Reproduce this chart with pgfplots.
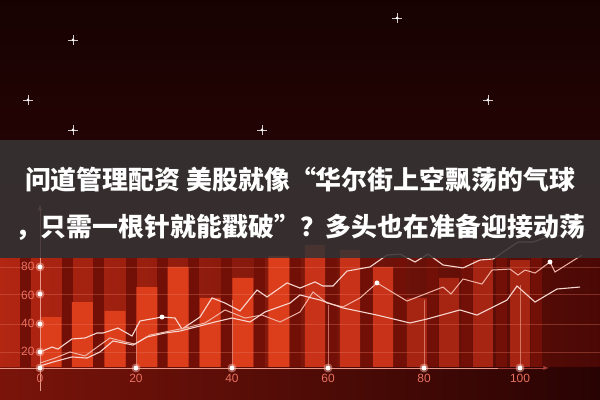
\documentclass[border=0pt]{standalone}
\usepackage{fontspec}
\setmainfont{Liberation Sans}
\newfontfamily\cjk{Noto Sans CJK SC}
\usepackage{pgfplots}
\pgfplotsset{compat=1.18}

\definecolor{topdark}{HTML}{170202}
\definecolor{topmid}{HTML}{2E0505}
\definecolor{areaL}{HTML}{B22612}
\definecolor{areaR}{HTML}{4A0805}
\definecolor{gapc}{HTML}{721008}
\definecolor{barA}{HTML}{DC3E1C}
\definecolor{barB}{HTML}{C83218}
\definecolor{barC}{HTML}{A62412}
\definecolor{lowL}{HTML}{7A140A}
\definecolor{lowR}{HTML}{280303}
\definecolor{axc}{HTML}{E89888}
\definecolor{tickc}{HTML}{E8705E}
\definecolor{bandc}{HTML}{383434}
\definecolor{lineA}{HTML}{F6D6CE}
\definecolor{lineB}{HTML}{F0B4A6}
\definecolor{halo}{HTML}{FFB4A4}

\begin{document}
\begin{tikzpicture}
\begin{axis}[
    scale only axis,
    width=600bp, height=400bp,
    xmin=-8.333, xmax=116.667,
    ymin=-14.134, ymax=268.55,
    axis on top,
    axis line style={draw=none},
    tick style={draw=none},
    xtick={0,20,40,60,80,100},
    ytick={20,40,60,80},
    /pgf/number format/assume math mode=true,
    tick label style={font=\fontsize{12}{14}\selectfont, text=tickc},
    yticklabel style={xshift=38bp},
    xticklabel style={yshift=29bp},
    clip=true,
  ]

  % backgrounds
  \shade[top color=topdark, bottom color=topmid]
    (rel axis cs:0,1) rectangle (axis cs:116.667,86.2);
  \shade[left color=areaL, right color=areaR]
    (rel axis cs:0,0) rectangle (axis cs:116.667,86.2);

  % dark gaps between bars
  \addplot[ycomb, gapc, line width=11bp, mark=none] coordinates {
    (-3,86)(5.63,86)(12.29,86)(18.96,86)(25.52,86)(32.08,86)(38.85,86)(45.83,86)
    (53.13,86)(60.73,86)(68.02,86)(75,86)(81.77,86)(88.85,86)(96.15,86)(103.54,86)
  };

  % bars
  \addplot[ybar, bar width=21bp, bar shift=0pt, fill=barA, draw=none] coordinates {
    (2.29,44.5)(8.85,55.1)(15.63,48.8)(22.29,65.7)(28.75,79.9)(35.42,58.0)(42.29,72.1)(49.79,87.6)
  };
  \addplot[ybar, bar width=20bp, bar shift=0pt, fill=barB, draw=none] coordinates {
    (57.29,95.4)(64.58,91.9)(71.46,79.9)
  };
  \addplot[ybar, bar width=20bp, bar shift=0pt, fill=barC, draw=none] coordinates {
    (78.54,58.0)(85.21,72.1)(92.29,84.8)(100.0,84.8)
  };

  % region below the x axis
  \shade[left color=lowL, right color=lowR]
    (rel axis cs:0,0) rectangle (axis cs:116.667,8.5);

  % faint horizontal levels
  \addplot[barA!70!white, opacity=0.35, line width=0.6bp, unbounded coords=jump] coordinates {
    (-8.3,19.8)(116.6,19.8) (nan,nan) (-8.3,39.6)(116.6,39.6) (nan,nan)
    (-8.3,60.8)(116.6,60.8) (nan,nan) (-8.3,79.9)(116.6,79.9)
  };

  % glow lines above the x ticks
  \addplot[axc, opacity=0.7, line width=0.6bp, unbounded coords=jump] coordinates {
    (20,8.5)(20,38.9) (nan,nan) (40,8.5)(40,56.5) (nan,nan) (60,8.5)(60,53)
    (nan,nan) (80,8.5)(80,56.5) (nan,nan) (100,8.5)(100,67)
  };

  % axes
  \addplot[axc, line width=0.9bp] coordinates {(-8.3,8.5)(96,8.5)};
  \addplot[axc!60!red!70!black, line width=0.9bp, -latex] coordinates {(95.5,8.5)(106,8.5)};
  \addplot[axc, line width=0.9bp, -latex] coordinates {(0,-8)(0,124)};

  % series
  \addplot[lineA, line width=1.1bp] coordinates {
    (0,19.8)(2.5,23.3)(3.75,21.9)(6.67,29.0)(9.38,29.7)(11.88,33.2)(13.13,33.2)
    (16.25,36.7)(19.17,31.1)(20.83,41.7)(25.42,44.5)(28.13,43.8)(29.58,36.0)
    (33.33,44.5)(35.83,58.0)(38.54,54.4)(41.67,48.8)(45.21,63.6)(47.29,58.7)
    (51.46,68.6)(54.17,65.0)(57.29,69.3)(58.96,66.4)(61.04,66.4)(63.96,77.0)
    (68.75,79.9)(72.29,88.3)(75,89.0)(78.13,83.4)(80.83,89.0)(83.96,81.3)
    (88.13,79.2)(91.67,84.8)(94.38,85.5)(99.58,97.5)(102.71,97.5)(105.63,101.1)
    (111.04,103.2)(113.54,106.0)
  };
  \addplot[lineB, line width=1.0bp] coordinates {
    (0,12.0)(3.13,15.5)(6.25,19.8)(9.38,17.0)(12.5,24.7)(14.58,29.7)(17.71,26.9)
    (19.79,25.4)(22.92,31.8)(27.08,34.6)(31.25,37.5)(34.38,40.3)(38.54,49.5)
    (42.71,43.8)(46.25,45.9)(50,41.0)(54.17,48.1)(56.88,62.2)(59.79,54.4)
    (63.13,51.6)(66.67,58.0)(70.21,68.6)(76.46,55.8)(83.96,65.7)(85.63,60.8)
    (88.13,71.4)(92.08,67.8)(94.17,77.7)(97.92,78.4)(99.58,74.2)(101.04,77.7)
    (103.13,75.6)(106.25,83.4)(107.29,76.3)(112.92,88.3)
  };
  \addplot[lineA, line width=1.1bp] coordinates {
    (0,9.9)(2.71,12.7)(6.67,16.3)(9.79,15.5)(12.5,19.8)(15.21,27.6)(19.38,24.7)
    (22.29,30.4)(26.04,33.2)(29.17,34.6)(33.33,38.2)(36.46,41.0)(40,43.8)
    (43.75,41.0)(46.88,48.1)(52.08,54.4)(54.17,60.1)(58.33,56.5)(63.13,50.9)
    (70.21,45.9)(77.08,40.3)(80.63,43.1)(87.5,49.5)(91.04,45.9)(97.29,56.5)
    (99.38,66.4)(103.13,55.1)(107.71,64.3)(112.5,65.7)
  };

  % glowing dots on the axes and series
  \addplot[only marks, mark=*, mark size=4.2bp, halo, opacity=0.45] coordinates {
    (0,8.5)(0,19.8)(0,39.6)(0,60.8)(0,79.9)(20,8.5)(40,8.5)(60,8.5)(80,8.5)(100,8.5)
  };
  \addplot[only marks, mark=*, mark size=2.2bp, white] coordinates {
    (0,8.5)(0,19.8)(0,39.6)(0,60.8)(0,79.9)(20,8.5)(40,8.5)(60,8.5)(80,8.5)(100,8.5)
    (25.42,44.5)(70.21,68.6)(106.25,83.4)
  };

  % sparkles in the dark sky
  \addplot[only marks, mark=+, mark size=5bp, white, opacity=0.8, line width=0.5bp] coordinates {
    (6.875,240.3)(-2.5,197.9)(6.875,176.7)(46.25,176.7)(74.4,255.8)(93.3,197.9)
  };
  \addplot[only marks, mark=*, mark size=1.2bp, white] coordinates {
    (6.875,240.3)(-2.5,197.9)(6.875,176.7)(46.25,176.7)(74.4,255.8)(93.3,197.9)
  };

  % title band
  \fill[bandc, opacity=0.88] (axis cs:-8.34,86.2) rectangle (axis cs:116.67,169.6);
  \node[text=white, font=\cjk\bfseries\fontsize{26}{30}\selectfont, inner sep=0pt]
    at (axis cs:54.17,141.3) {问道管理配资 美股就像“华尔街上空飘荡的气球};
  \node[text=white, font=\cjk\bfseries\fontsize{26}{30}\selectfont, inner sep=0pt]
    at (axis cs:54.17,108.1) {，只需一根针就能戳破”？多头也在准备迎接动荡};
\end{axis}
\end{tikzpicture}
\end{document}
